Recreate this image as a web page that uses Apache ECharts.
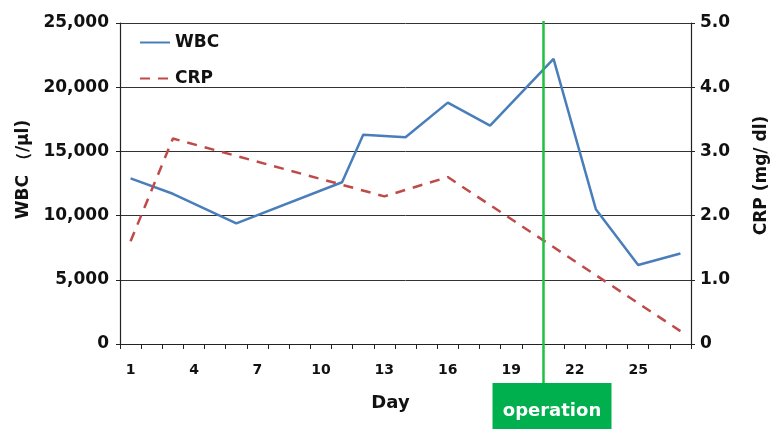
<!DOCTYPE html>
<html>
<head>
<meta charset="utf-8">
<script src="https://cdn.jsdelivr.net/npm/echarts@6/dist/echarts.min.js"></script>
<style>
  html, body { margin: 0; padding: 0; background: #fff; }
  #chart { width: 770px; height: 429px; }
</style>
</head>
<body>
<div id="chart"></div>
<script>
const days = Array.from({ length: 27 }, (_, i) => String(i + 1));

const wbcDays = [1, 3, 6, 11, 12, 14, 16, 18, 21, 23, 25, 27];
const wbcValues = [12900, 11700, 9400, 12600, 16300, 16100, 18800, 17000, 22200, 10500, 6150, 7050];

const crpDays = [1, 3, 13, 16, 27];
const crpValues = [1.6, 3.2, 2.3, 2.6, 0.2];

const operationDay = 20.5;

const FONT = 'DejaVu Sans';
const chart = echarts.init(document.getElementById('chart'));

const pairs = (xs, ys) => xs.map((d, i) => [String(d), ys[i]]);

chart.setOption({
  animation: false,
  grid: { left: 120, right: 79, top: 23, bottom: 85, outerBoundsMode: 'none', containLabel: false },
  legend: {
    orient: 'vertical',
    left: 134,
    top: 29,
    itemWidth: 30,
    itemHeight: 14,
    itemGap: 19,
    itemStyle: { opacity: 0 },
    textStyle: { fontFamily: FONT, fontWeight: 'bold', fontSize: 17, color: '#111' },
    data: ['WBC', 'CRP'],
  },
  xAxis: {
    type: 'category',
    data: days,
    boundaryGap: true,
    name: 'Day',
    nameLocation: 'middle',
    nameGap: 50,
    nameTextStyle: { fontFamily: FONT, fontWeight: 'bold', fontSize: 18, color: '#111', padding: [0, 30, 0, 0] },
    axisLine: { lineStyle: { color: '#222', width: 1.2 } },
    axisTick: { show: true, interval: 0, length: 5, lineStyle: { color: '#222' } },
    axisLabel: { interval: 2, margin: 19, fontFamily: FONT, fontWeight: 'bold', fontSize: 14, color: '#111' },
    splitLine: { show: false },
  },
  yAxis: [
    {
      type: 'value',
      min: 0,
      max: 25000,
      interval: 5000,
      name: 'WBC （/μl)',
      nameLocation: 'middle',
      nameGap: 86,
      nameRotate: 90,
      nameTextStyle: { fontFamily: FONT, fontWeight: 'bold', fontSize: 17, color: '#111', padding: [0, 0, 0, 28] },
      axisLine: { show: true, lineStyle: { color: '#222', width: 1.2 } },
      axisTick: { show: true, length: 4, lineStyle: { color: '#222' } },
      axisLabel: {
        margin: 11,
        fontFamily: FONT, fontWeight: 'bold', fontSize: 17, color: '#111',
        formatter: v => v.toLocaleString('en-US'),
      },
      splitLine: { show: true, lineStyle: { color: '#333', width: 1 } },
    },
    {
      type: 'value',
      min: 0,
      max: 5,
      interval: 1,
      name: 'CRP (mg/ dl)',
      nameLocation: 'middle',
      nameGap: 62,
      nameRotate: 90,
      nameTextStyle: { fontFamily: FONT, fontWeight: 'bold', fontSize: 17, color: '#111', padding: [0, 0, 0, 16] },
      axisLine: { show: true, lineStyle: { color: '#222', width: 1.2 } },
      axisTick: { show: true, length: 4, lineStyle: { color: '#222' } },
      axisLabel: {
        margin: 9,
        fontFamily: FONT, fontWeight: 'bold', fontSize: 17, color: '#111',
        formatter: v => (v === 0 ? '0' : v.toFixed(1)),
      },
      splitLine: { show: false },
    },
  ],
  series: [
    {
      name: 'WBC',
      type: 'line',
      yAxisIndex: 0,
      data: pairs(wbcDays, wbcValues),
      symbol: 'none',
      lineStyle: { color: '#4a7ebb', width: 2.5 },
      itemStyle: { color: '#4a7ebb' },
    },
    {
      name: 'CRP',
      type: 'line',
      yAxisIndex: 1,
      data: pairs(crpDays, crpValues),
      symbol: 'none',
      lineStyle: { color: '#be4b48', width: 2.5, type: [10, 8] },
      itemStyle: { color: '#be4b48' },
    },
  ],
});

// operation marker: boundary between two day bands, from the category scale
const lo = chart.convertToPixel({ xAxisIndex: 0 }, String(Math.floor(operationDay)));
const hi = chart.convertToPixel({ xAxisIndex: 0 }, String(Math.ceil(operationDay)));
const opX = Math.round((lo + hi) / 2) + 0.5;

chart.setOption({
  graphic: [
    {
      type: 'line',
      shape: { x1: opX, y1: 21, x2: opX, y2: 384 },
      style: { stroke: '#22c040', lineWidth: 2.5 },
      z: 10,
    },
    {
      type: 'rect',
      shape: { x: opX - 51, y: 383, width: 119, height: 50 },
      style: { fill: '#00b04f' },
      z: 10,
    },
    {
      type: 'text',
      x: opX + 8.5,
      y: 411,
      style: {
        text: 'operation',
        fill: '#fff',
        font: 'bold 18px "DejaVu Sans"',
        align: 'center',
        verticalAlign: 'middle',
      },
      z: 11,
    },
  ],
});
</script>
</body>
</html>
